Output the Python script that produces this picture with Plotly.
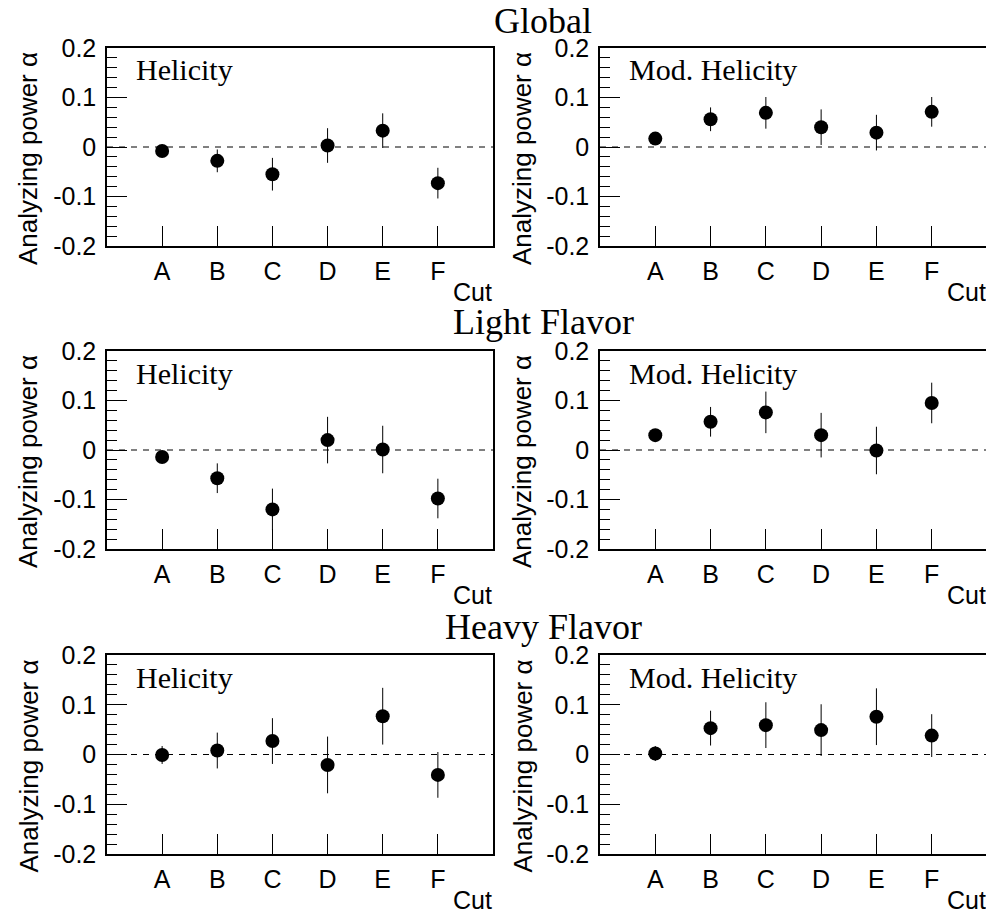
import plotly.graph_objects as go

# The page body adds an 8px margin at top/left
OFF = 8
W, H = 994 - OFF, 913 - OFF

cuts = ["A", "B", "C", "D", "E", "F"]
cut_pos = [1, 2, 3, 4, 5, 6]

row_titles = ["Global", "Light Flavor", "Heavy Flavor"]
col_labels = ["Helicity", "Mod. Helicity"]

# Analyzing power values and errors, per row (sample) and column (method)
global_hel = [-0.008, -0.028, -0.055, 0.003, 0.033, -0.073]
global_hel_err = [0.006, 0.023, 0.033, 0.035, 0.035, 0.031]
global_mod = [0.017, 0.056, 0.069, 0.040, 0.029, 0.071]
global_mod_err = [0.006, 0.024, 0.032, 0.036, 0.036, 0.030]

light_hel = [-0.014, -0.057, -0.120, 0.020, 0.001, -0.098]
light_hel_err = [0.008, 0.030, 0.042, 0.047, 0.048, 0.040]
light_mod = [0.030, 0.057, 0.076, 0.030, -0.001, 0.095]
light_mod_err = [0.008, 0.030, 0.042, 0.045, 0.048, 0.041]

heavy_hel = [-0.001, 0.008, 0.027, -0.021, 0.077, -0.041]
heavy_hel_err = [0.018, 0.036, 0.046, 0.057, 0.057, 0.046]
heavy_mod = [0.002, 0.053, 0.059, 0.049, 0.076, 0.038]
heavy_mod_err = [0.015, 0.035, 0.046, 0.052, 0.057, 0.043]

panels = [
    [(global_hel, global_hel_err), (global_mod, global_mod_err)],
    [(light_hel, light_hel_err), (light_mod, light_mod_err)],
    [(heavy_hel, heavy_hel_err), (heavy_mod, heavy_mod_err)],
]

ytickvals = [-0.2, -0.1, 0, 0.1, 0.2]
yticktext = ["-0.2", "-0.1", "0", "0.1", "0.2"]

# panel frames in screen pixels: (left, right) per column, (top, bottom) per row
col_px = [(107, 493), (600, 987)]
row_px = [(48, 246), (351, 549), (655, 854)]

SANS = "Liberation Sans, Arial, Helvetica, sans-serif"
SERIF = "Liberation Serif, Times New Roman, serif"


def px_x(p):
    return min(1.0, max(0.0, (p - OFF) / W))


def px_y(p):
    return min(1.0, max(0.0, 1 - (p - OFF) / H))


fig = go.Figure()
annotations = []
shapes = []

k = 0
for r in range(3):
    for c in range(2):
        k += 1
        xa = "x" if k == 1 else f"x{k}"
        ya = "y" if k == 1 else f"y{k}"
        vals, errs = panels[r][c]
        fig.add_trace(go.Scatter(
            x=cut_pos, y=vals, mode="markers",
            marker=dict(color="black", size=14, symbol="circle"),
            error_y=dict(type="data", array=errs, visible=True,
                         color="black", thickness=1, width=0),
            xaxis=xa, yaxis=ya, showlegend=False, cliponaxis=False,
        ))
        l, rr = col_px[c]
        t, b = row_px[r]
        axis_common = dict(showgrid=False, zeroline=False, showline=True,
                           linecolor="black", linewidth=1.5, mirror=True,
                           ticks="inside", tickcolor="black", tickwidth=1,
                           automargin=False,
                           tickfont=dict(family=SANS, size=25, color="black"))
        fig.update_layout(**{
            ("xaxis" if k == 1 else f"xaxis{k}"): dict(
                domain=[px_x(l), px_x(rr)], anchor=ya, range=[0, 7],
                tickvals=cut_pos, ticktext=cuts, ticklen=20,
                ticklabelstandoff=2, **axis_common),
            ("yaxis" if k == 1 else f"yaxis{k}"): dict(
                domain=[px_y(b), px_y(t)], anchor=xa, range=[-0.2, 0.2],
                tickvals=ytickvals, ticktext=yticktext, ticklen=20,
                ticklabelstandoff=4,
                minor=dict(dtick=0.02, ticklen=10, ticks="inside",
                           tickcolor="black", tickwidth=1, showgrid=False),
                **axis_common),
        })
        # dashed zero line
        shapes.append(dict(type="line", xref=f"{xa} domain", yref=ya,
                           x0=0, x1=1, y0=0, y1=0,
                           line=dict(color="black", width=1, dash="6px,6px")))
        # panel label
        annotations.append(dict(
            text=col_labels[c], xref="paper", yref="paper",
            x=px_x(l + 27), y=px_y(t + 22), xanchor="left", yanchor="middle",
            showarrow=False, font=dict(family=SERIF, size=30, color="black")))
        # Cut label
        annotations.append(dict(
            text="Cut", xref="paper", yref="paper",
            x=px_x(rr + 1), y=px_y(b + 46), xanchor="right", yanchor="middle",
            showarrow=False, font=dict(family=SANS, size=25, color="black")))
        # y axis title
        yt_center = (t + b) / 2 + 12
        annotations.append(dict(
            text="Analyzing power α", xref="paper", yref="paper",
            x=px_x(28 + (494 if c == 1 else 0)), y=px_y(yt_center),
            xanchor="center", yanchor="middle", textangle=-90,
            showarrow=False, font=dict(family=SANS, size=26, color="black")))

title_y = [21, 322, 627]
for r in range(3):
    annotations.append(dict(
        text=row_titles[r], xref="paper", yref="paper",
        x=px_x(543), y=px_y(title_y[r]), xanchor="center", yanchor="middle",
        showarrow=False, font=dict(family=SERIF, size=36, color="black")))

fig.update_layout(
    width=W, height=H, margin=dict(l=0, r=0, t=0, b=0, autoexpand=False),
    paper_bgcolor="white", plot_bgcolor="white",
    annotations=annotations, shapes=shapes,
)

fig.write_html("out.html")
